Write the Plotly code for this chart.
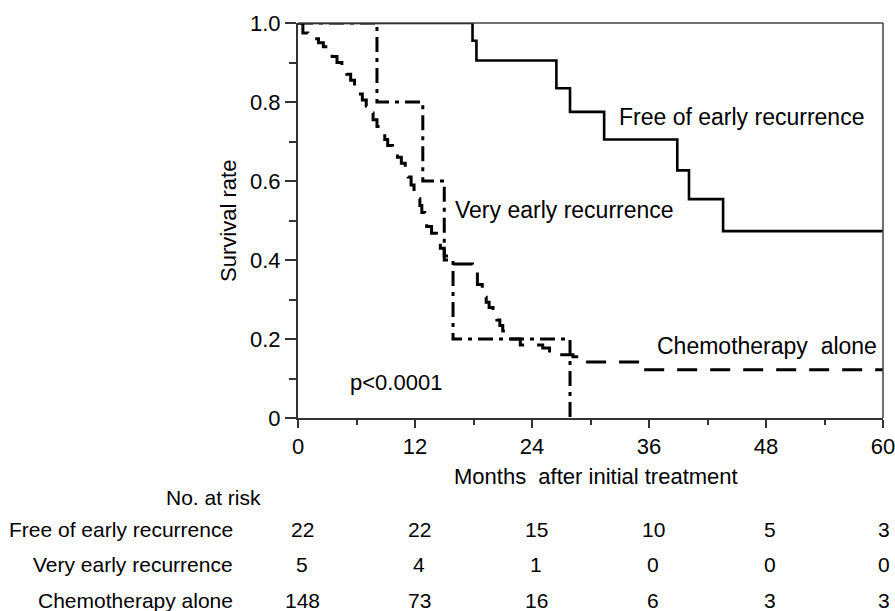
import plotly.graph_objects as go

# ---- data ----
free_t = [0, 17.9, 18.3, 26.5, 27.9, 31.4, 38.9, 40.1, 43.6, 60]
free_s = [1.0, 0.955, 0.905, 0.835, 0.775, 0.705, 0.627, 0.554, 0.473, 0.473]

very_t = [0, 8.1, 12.8, 15.0, 15.9, 27.9]
very_s = [1.0, 0.8, 0.6, 0.4, 0.2, 0.0]

chemo_t = [0, 0.5, 1.0, 1.5, 2.1, 2.6, 3.1, 3.5, 4.0, 4.5, 5.0, 5.4, 5.8, 6.2,
           6.6, 7.0, 7.4, 7.7, 8.1, 8.5, 8.9, 9.2, 9.7, 10.2, 10.6, 11.0,
           11.3, 11.6, 11.9, 12.2, 12.5, 12.7, 13.0, 13.2, 13.7, 14.2, 14.6,
           15.0, 15.5, 17.9, 18.4, 18.9, 19.3, 19.6, 20.0, 20.4, 20.7, 21.0,
           21.4, 21.7, 22.8, 25.1, 25.8, 28.2, 29.2, 35.4, 60]
chemo_s = [1.0, 0.975, 0.968, 0.96, 0.95, 0.94, 0.928, 0.915, 0.9, 0.885, 0.87,
           0.855, 0.838, 0.82, 0.805, 0.79, 0.772, 0.755, 0.738, 0.72, 0.705,
           0.69, 0.675, 0.66, 0.645, 0.63, 0.61, 0.59, 0.572, 0.555, 0.538,
           0.52, 0.502, 0.485, 0.468, 0.45, 0.43, 0.41, 0.39, 0.37, 0.338,
           0.306, 0.293, 0.28, 0.264, 0.248, 0.234, 0.22, 0.21, 0.2, 0.185,
           0.177, 0.16, 0.155, 0.142, 0.122, 0.122]

x_ticks = [0, 12, 24, 36, 48, 60]
y_ticks = [0, 0.2, 0.4, 0.6, 0.8, 1.0]
y_tick_labels = ["0", "0.2", "0.4", "0.6", "0.8", "1.0"]

risk_groups = ["Free of early recurrence", "Very early recurrence", "Chemotherapy alone"]
risk_free = [22, 22, 15, 10, 5, 3]
risk_very = [5, 4, 1, 0, 0, 0]
risk_chemo = [148, 73, 16, 6, 3, 3]

FONT = "Liberation Sans, Arial, sans-serif"

fig = go.Figure()
fig.add_trace(go.Scatter(x=chemo_t, y=chemo_s, mode="lines", line_shape="hv",
                         line=dict(color="black", width=3, dash="20px,13px"),
                         hoverinfo="skip"))
fig.add_trace(go.Scatter(x=very_t, y=very_s, mode="lines", line_shape="hv",
                         line=dict(color="black", width=3, dash="15px,6px,4px,6px"),
                         hoverinfo="skip"))
fig.add_trace(go.Scatter(x=free_t, y=free_s, mode="lines", line_shape="hv",
                         line=dict(color="black", width=2.6),
                         hoverinfo="skip"))

ann = []
def add(text, x, y, xref="x", yref="y", xanchor="left", size=23, angle=0, xshift=0):
    ann.append(dict(text=text, x=x, y=y, xref=xref, yref=yref, xanchor=xanchor,
                    yanchor="middle", showarrow=False, textangle=angle, xshift=xshift,
                    font=dict(family=FONT, size=size, color="black")))

add("Free of early recurrence", 32.7, 0.762)
add("Very early recurrence", 15.9, 0.527)
add("Chemotherapy\u00a0 alone", 36.6, 0.182)
add("p<0.0001", 5.1, 0.089, size=22)

# axis titles
add("Months\u00a0 after initial treatment", 0.509, -0.149, xref="paper", yref="paper",
    xanchor="center", size=22)
add("Survival rate", -0.119, 0.5, xref="paper", yref="paper", xanchor="center",
    size=22, angle=-90)

# risk table
add("No. at risk", -0.06, -0.2, xref="paper", yref="paper", xanchor="right", size=21)
rows_y = [-0.2835, -0.372, -0.461]
for label, vals, ry in zip(risk_groups, [risk_free, risk_very, risk_chemo], rows_y):
    add(label, -0.108, ry, xref="paper", yref="paper", xanchor="right", size=21)
    for xv, v in zip(x_ticks, vals):
        add(str(v), xv / x_ticks[-1], ry, xref="paper", yref="paper",
            xanchor="center", size=21, xshift=4 if xv < x_ticks[-1] else 1)

fig.update_layout(
    width=895, height=611,
    margin=dict(l=298, r=12, t=23, b=193, autoexpand=False),
    paper_bgcolor="white", plot_bgcolor="white",
    showlegend=False,
    annotations=ann,
    font=dict(family=FONT, size=22, color="black"),
    shapes=[
        dict(type="line", xref="paper", yref="paper", x0=0, x1=1, y0=1, y1=1,
             line=dict(color="#444444", width=1.5)),
        dict(type="line", xref="paper", yref="paper", x0=1, x1=1, y0=0, y1=1,
             line=dict(color="#444444", width=1.5)),
    ],
)
fig.update_xaxes(range=[0, 60], tickvals=x_ticks, ticks="outside", ticklen=8,
                 tickwidth=2, tickcolor="#333333", showline=True, linewidth=2,
                 linecolor="#333333", showgrid=False, zeroline=False,
                 ticklabeloverflow="allow", automargin=False,
                 tickfont=dict(family=FONT, size=22, color="black"),
                 minor=dict(dtick=6, ticks="outside", ticklen=5, tickwidth=2,
                            tickcolor="#333333", showgrid=False))
fig.update_yaxes(range=[0, 1.0], tickvals=y_ticks, ticktext=y_tick_labels,
                 ticks="outside", ticklen=11, tickwidth=2, tickcolor="#333333",
                 showline=True, linewidth=2, linecolor="#333333", showgrid=False,
                 zeroline=False, automargin=False,
                 tickfont=dict(family=FONT, size=22, color="black"),
                 minor=dict(dtick=0.1, ticks="outside", ticklen=7, tickwidth=2,
                            tickcolor="#333333", showgrid=False))

fig.write_html("out.html", config={"displayModeBar": False},
               post_script="document.body.style.margin='0';"
                           "document.body.style.overflow='hidden';")
